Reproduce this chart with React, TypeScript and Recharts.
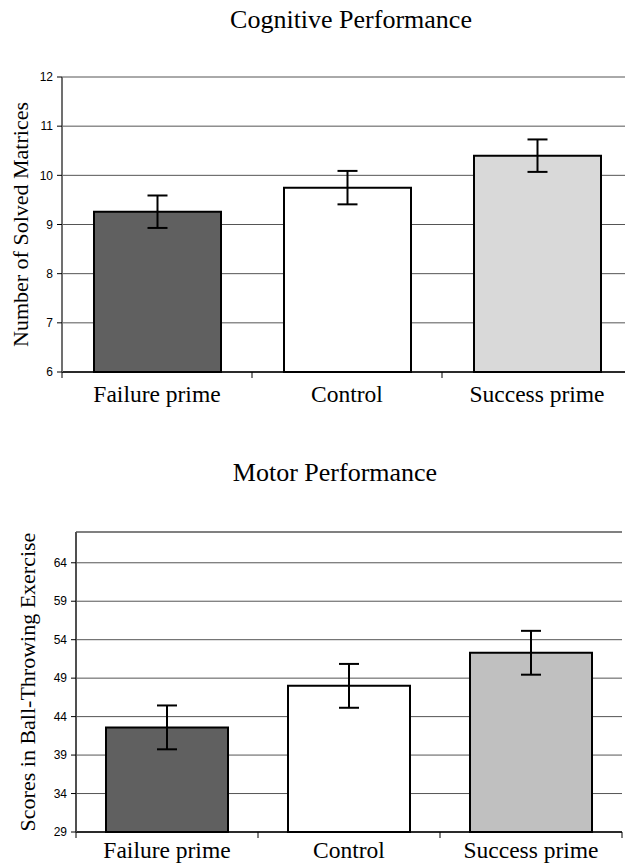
import { BarChart, Bar, XAxis, YAxis, CartesianGrid, Cell, ErrorBar, Label, ReferenceLine } from 'recharts'

const categories = ['Failure prime', 'Control', 'Success prime']

const cognitiveMeans = [9.26, 9.75, 10.4]
const cognitiveErr = [0.33, 0.34, 0.33]
const cognitiveTicks = [6, 7, 8, 9, 10, 11, 12]

const motorMeans = [42.6, 48.0, 52.3]
const motorErr = [2.85, 2.85, 2.85]
const motorTicks = [29, 34, 39, 44, 49, 54, 59, 64]

const cognitiveFills = ['#606060', '#ffffff', '#d9d9d9']
const motorFills = ['#606060', '#ffffff', '#c0c0c0']

const serif = '"Liberation Serif", "Times New Roman", serif'
const sans = '"Liberation Sans", Arial, sans-serif'

const cognitiveData = categories.map((c, i) => ({ name: c, value: cognitiveMeans[i], err: cognitiveErr[i] }))
const motorData = categories.map((c, i) => ({ name: c, value: motorMeans[i], err: motorErr[i] }))

function CategoryTick(props: any) {
  const { x, y, payload, index, step, count, dy } = props
  return (
    <g>
      <line x1={x - step / 2} x2={x - step / 2} y1={y} y2={y + 6} stroke="#000" />
      {index === count - 1 && <line x1={x + step / 2} x2={x + step / 2} y1={y} y2={y + 6} stroke="#000" />}
      <text x={x} y={y + dy} textAnchor="middle" fontFamily={serif} fontSize={23.5} fill="#000">
        {payload.value}
      </text>
    </g>
  )
}

function AxisTitle(props: any) {
  const { viewBox, text, x } = props
  const cy = viewBox.y + viewBox.height / 2
  return (
    <text x={x} y={cy} transform={`rotate(-90, ${x}, ${cy})`} textAnchor="middle" fontFamily={serif} fontSize={22} fill="#000">
      {text}
    </text>
  )
}

export default function App() {
  return (
    <div style={{ position: 'absolute', left: 0, top: 0, width: 625, height: 864, overflow: 'hidden', background: '#fff' }}>
      <div style={{ position: 'absolute', left: 0, top: 7, width: 702, textAlign: 'center', fontFamily: serif, fontSize: 26, lineHeight: 1 }}>
        Cognitive Performance
      </div>
      <div style={{ position: 'absolute', left: 0, top: 0 }}>
        <BarChart width={632} height={420} data={cognitiveData} margin={{ top: 77, right: 0, bottom: 8, left: 0 }} barSize={127}>
          <CartesianGrid vertical={false} stroke="#555" />
          <XAxis
            dataKey="name"
            axisLine={{ stroke: '#000', strokeWidth: 1.5 }}
            tickLine={false}
            tickSize={0}
            tickMargin={0}
            height={40}
            interval={0}
            tick={(p: any) => <CategoryTick {...p} step={190} count={3} dy={30} />}
          />
          <YAxis
            width={62}
            domain={[6, 12]}
            ticks={cognitiveTicks}
            interval={0}
            axisLine={{ stroke: '#707070', strokeWidth: 2 }}
            tickLine={{ stroke: '#000' }}
            tickSize={5}
            tickMargin={4}
            tick={{ fontFamily: sans, fontSize: 12, fill: '#000' }}
          >
            <Label content={(p: any) => <AxisTitle {...p} text="Number of Solved Matrices" x={28} />} />
          </YAxis>
          <Bar dataKey="value" stroke="#000" strokeWidth={2} isAnimationActive={false}>
            {cognitiveData.map((_, i) => (
              <Cell key={i} fill={cognitiveFills[i]} />
            ))}
            <ErrorBar dataKey="err" width={10} stroke="#000" strokeWidth={2} isAnimationActive={false} />
          </Bar>
        </BarChart>
      </div>

      <div style={{ position: 'absolute', left: 0, top: 460, width: 670, textAlign: 'center', fontFamily: serif, fontSize: 26, lineHeight: 1 }}>
        Motor Performance
      </div>
      <div style={{ position: 'absolute', left: 0, top: 450 }}>
        <BarChart width={625} height={414} data={motorData} margin={{ top: 82, right: 3, bottom: 0, left: 0 }} barSize={122}>
          <CartesianGrid vertical={false} stroke="#555" />
          <ReferenceLine y={68} stroke="#808080" strokeWidth={2} />
          <XAxis
            dataKey="name"
            axisLine={{ stroke: '#000', strokeWidth: 1.5 }}
            tickLine={false}
            tickSize={0}
            tickMargin={0}
            height={32}
            interval={0}
            tick={(p: any) => <CategoryTick {...p} step={182} count={3} dy={26} />}
          />
          <YAxis
            width={76}
            domain={[29, 68]}
            ticks={motorTicks}
            interval={0}
            axisLine={{ stroke: '#505050', strokeWidth: 2 }}
            tickLine={{ stroke: '#000' }}
            tickSize={5}
            tickMargin={4}
            tick={{ fontFamily: sans, fontSize: 12, fill: '#000' }}
          >
            <Label content={(p: any) => <AxisTitle {...p} text="Scores in Ball-Throwing Exercise" x={35} />} />
          </YAxis>
          <YAxis yAxisId="r" orientation="right" width={0} tick={false} axisLine={{ stroke: '#808080', strokeWidth: 2 }} tickLine={false} />
          <Bar dataKey="value" stroke="#000" strokeWidth={2} isAnimationActive={false}>
            {motorData.map((_, i) => (
              <Cell key={i} fill={motorFills[i]} />
            ))}
            <ErrorBar dataKey="err" width={10} stroke="#000" strokeWidth={2} isAnimationActive={false} />
          </Bar>
        </BarChart>
      </div>
    </div>
  )
}
